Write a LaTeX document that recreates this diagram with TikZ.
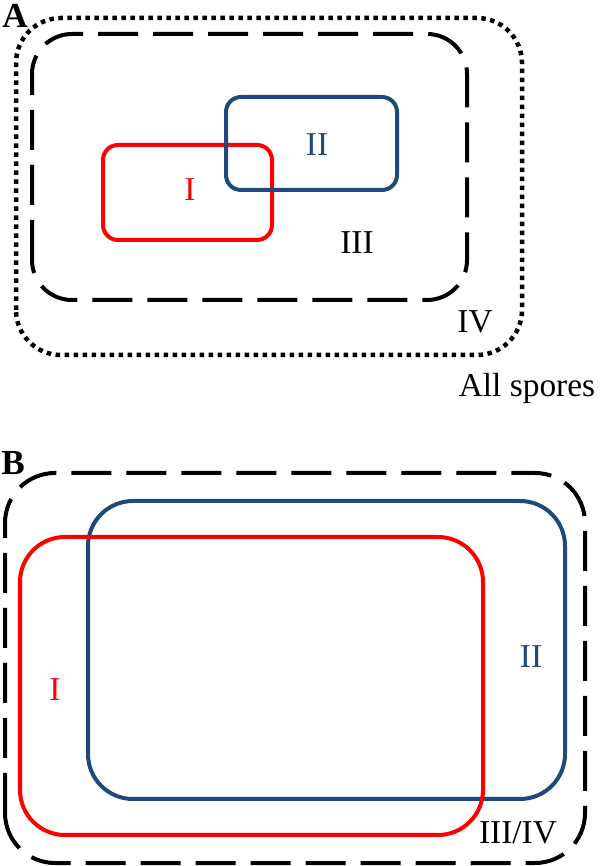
\documentclass[tikz,border=0pt]{standalone}
\usepackage{fontspec}
\setmainfont{Liberation Serif}
\definecolor{setred}{RGB}{255,0,0}
\definecolor{setblue}{RGB}{31,73,125}
\tikzset{
  dashbox/.style={line width=0.08cm, dash pattern=on 0.8cm off 0.3cm},
  dotbox/.style={line width=0.09cm, dash pattern=on 0.09cm off 0.09cm},
  redbox/.style={line width=0.08cm, draw=setred},
  bluebox/.style={line width=0.08cm, draw=setblue},
  setlabel/.style={font=\fontsize{19}{22}\selectfont, inner sep=0pt},
  panellabel/.style={font=\fontsize{20}{24}\selectfont\bfseries, inner sep=0pt}
}
\begin{document}
\begin{tikzpicture}
                    \useasboundingbox (0,0) rectangle (12.000000,17.320000);
                    
                    % Panel A
                    \node [panellabel] (labA) at (0.300000,17.000000) {A};%
                    
                    % Drawing set IV (all spores)
                    \draw [dotbox, rounded corners=0.9cm] (0.320000,10.220000) rectangle (10.440000,16.960000);%
                    
                    % Drawing set III
                    \draw [dashbox, rounded corners=0.8cm] (0.640000,11.320000) rectangle (9.340000,16.640000);%
                    
                    % Drawing set I
                    \draw [redbox, rounded corners=0.3cm] (2.060000,12.520000) rectangle (5.440000,14.420000);%
                    
                    % Drawing set II
                    \draw [bluebox, rounded corners=0.3cm] (4.520000,13.520000) rectangle (7.940000,15.380000);%
                    
                    % Marking sets of panel A
                    \node [setlabel, text=setred] (setIa) at (3.800000,13.520000) {I};%
                    \node [setlabel, text=setblue] (setIIa) at (6.340000,14.420000) {II};%
                    \node [setlabel] (setIIIa) at (7.140000,12.460000) {III};%
                    \node [setlabel] (setIVa) at (9.500000,10.880000) {IV};%
                    \node [setlabel] (allspores) at (10.540000,9.560000) {All spores};%
                    
                    % Panel B
                    \node [panellabel] (labB) at (0.260000,8.060000) {B};%
                    
                    % Drawing set III/IV
                    \draw [dashbox, rounded corners=1.0cm] (0.100000,0.060000) rectangle (11.700000,7.860000);%
                    
                    % Drawing set II
                    \draw [bluebox, rounded corners=0.9cm] (1.760000,1.340000) rectangle (11.300000,7.300000);%
                    
                    % Drawing set I
                    \draw [redbox, rounded corners=0.9cm] (0.400000,0.620000) rectangle (9.660000,6.580000);%
                    
                    % Marking sets of panel B
                    \node [setlabel, text=setred] (setIb) at (1.100000,3.520000) {I};%
                    \node [setlabel, text=setblue] (setIIb) at (10.620000,4.180000) {II};%
                    \node [setlabel] (setIIIb) at (10.360000,0.660000) {III/IV};%
\end{tikzpicture}
\end{document}
